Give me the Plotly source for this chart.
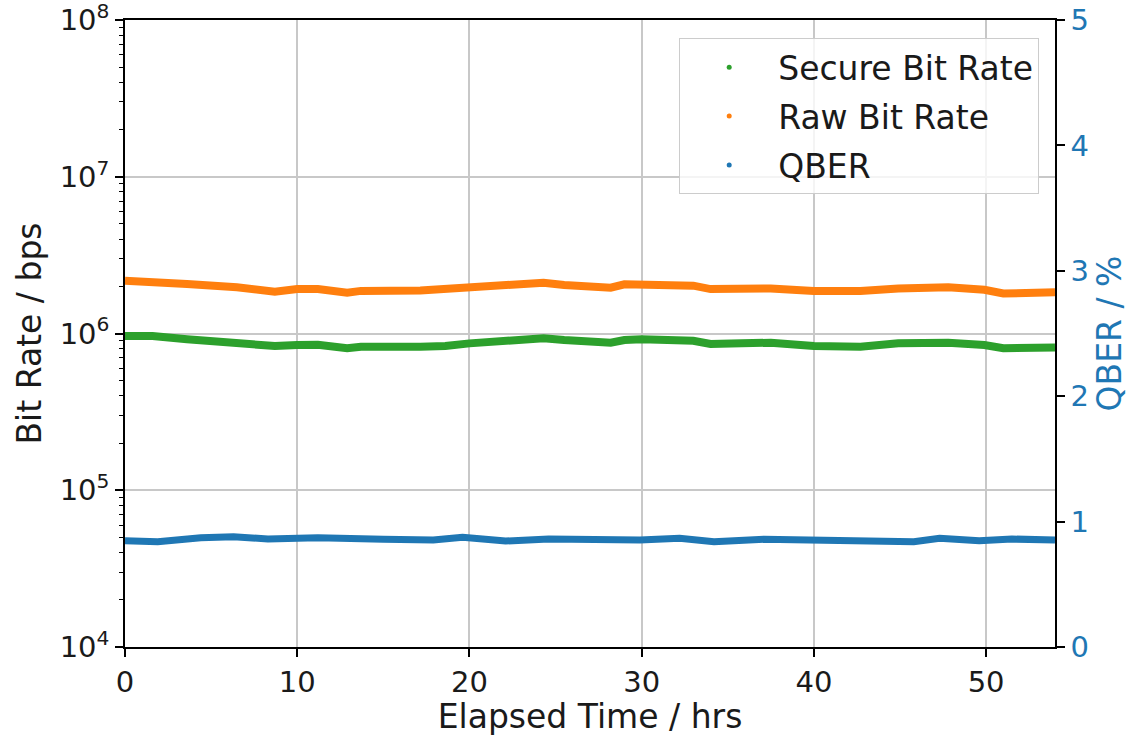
import plotly.graph_objects as go

# Elapsed time (hrs) and values
t_raw = [0, 1.6, 3.6, 6.5, 8.7, 10, 11.2, 12.9, 13.7, 17.15, 18.6, 20, 22, 24.3, 25.5,
         28.2, 29, 30, 33, 34, 35.8, 37.5, 40, 42.7, 44.9, 47.8, 49.9, 51, 54]
raw_rate = [2.17e6, 2.14e6, 2.07e6, 1.97e6, 1.85e6, 1.92e6, 1.92e6, 1.82e6, 1.87e6, 1.88e6,
            1.92e6, 1.99e6, 2.04e6, 2.11e6, 2.04e6, 1.96e6, 2.06e6, 2.06e6, 2.02e6, 1.92e6,
            1.92e6, 1.94e6, 1.87e6, 1.87e6, 1.94e6, 1.97e6, 1.90e6, 1.80e6, 1.83e6]
secure_rate = [9.64e5, 9.64e5, 9.18e5, 8.74e5, 8.32e5, 8.45e5, 8.48e5, 8.05e5, 8.24e5, 8.24e5,
               8.32e5, 8.65e5, 8.99e5, 9.32e5, 9.09e5, 8.74e5, 9.09e5, 9.18e5, 8.99e5, 8.57e5,
               8.65e5, 8.74e5, 8.32e5, 8.24e5, 8.65e5, 8.74e5, 8.45e5, 8.05e5, 8.15e5]
t_qber = [0, 1.9, 4.4, 6.3, 8.3, 11.2, 15, 17.9, 19.6, 22.1, 24.6, 26.8, 29.9, 32.2,
          34.2, 37.1, 40, 41.9, 45.8, 47.3, 49.6, 51.5, 54]
qber = [0.848, 0.840, 0.872, 0.880, 0.861, 0.872, 0.859, 0.853, 0.875, 0.845, 0.861, 0.853,
        0.853, 0.867, 0.840, 0.859, 0.853, 0.843, 0.840, 0.867, 0.848, 0.861, 0.853]

x_ticks = [0, 10, 20, 30, 40, 50]
y_exps = [4, 5, 6, 7, 8]
y_ticks = [10 ** e for e in y_exps]
y_ticktext = ["10<sup>%d</sup>" % e for e in y_exps]
y_minor = [m * 10 ** e for e in y_exps[:-1] for m in range(2, 10)]
q_ticks = [0, 1, 2, 3, 4, 5]

GREEN, ORANGE, BLUE = "#2ca02c", "#ff7f0e", "#1f77b4"
FONT = "DejaVu Sans"
TICK_SIZE = 29
TITLE_SIZE = 33

fig = go.Figure()
fig.add_trace(go.Scatter(x=t_qber, y=qber, mode="lines", line=dict(color=BLUE, width=7),
                         yaxis="y2", showlegend=False, hoverinfo="skip"))
fig.add_trace(go.Scatter(x=t_raw, y=raw_rate, mode="lines", line=dict(color=ORANGE, width=8),
                         showlegend=False))
fig.add_trace(go.Scatter(x=t_raw, y=secure_rate, mode="lines", line=dict(color=GREEN, width=8),
                         showlegend=False))

# legend entries (dot markers)
for name, col, grp in [("Secure Bit Rate", GREEN, "a"), ("Raw Bit Rate", ORANGE, "b"), ("QBER", BLUE, "c")]:
    fig.add_trace(go.Scatter(x=[None], y=[None], mode="markers", name=name, legendgroup=grp,
                             marker=dict(color=col, size=5)))

axis_common = dict(showline=True, linecolor="black", linewidth=1.5, ticks="outside",
                   ticklen=8, tickwidth=1.5, tickcolor="black", automargin=False,
                   ticklabeloverflow="allow")

fig.update_layout(
    width=1135, height=736,
    margin=dict(l=125, r=80, t=20, b=89),
    paper_bgcolor="white", plot_bgcolor="white",
    font=dict(family=FONT, size=TICK_SIZE, color="#1a1a1a"),
    xaxis=dict(range=[0, 54], tickvals=x_ticks, showgrid=True, gridcolor="#c8c8c8", gridwidth=1.5,
               mirror=True, zeroline=False, tickfont=dict(size=TICK_SIZE),
               title=dict(text="Elapsed Time / hrs", font=dict(size=TITLE_SIZE), standoff=6),
               **axis_common),
    yaxis=dict(type="log", range=[4, 8], tickvals=y_ticks, ticktext=y_ticktext,
               showgrid=True, gridcolor="#c8c8c8", gridwidth=1.5, mirror=True, zeroline=False,
               tickfont=dict(size=TICK_SIZE),
               minor=dict(tickvals=y_minor, ticks="outside", ticklen=4, tickwidth=1, tickcolor="black",
                          showgrid=False),
               title=dict(text="Bit Rate / bps", font=dict(size=TITLE_SIZE), standoff=8),
               **axis_common),
    yaxis2=dict(overlaying="y", side="right", range=[0, 5], tickvals=q_ticks, showgrid=False,
                zeroline=False, tickfont=dict(color=BLUE, size=TICK_SIZE),
                title=dict(text="QBER / %", font=dict(size=TITLE_SIZE, color=BLUE), standoff=10),
                **axis_common),
    legend=dict(x=0.983, xanchor="right", y=0.971, yanchor="top",
                bgcolor="rgba(255,255,255,0.8)", bordercolor="#cccccc", borderwidth=1,
                font=dict(size=TITLE_SIZE, color="#1a1a1a"), traceorder="grouped", tracegroupgap=3,
                itemwidth=88),
)

fig.write_html("out.html")
